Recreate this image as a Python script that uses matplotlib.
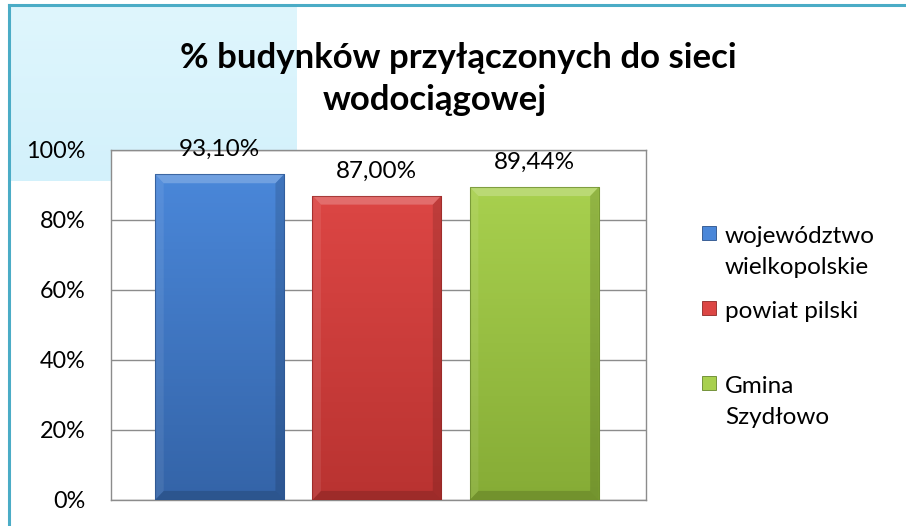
import numpy as np
import matplotlib
matplotlib.use("Agg")
import matplotlib.pyplot as plt
from matplotlib.patches import Rectangle, Polygon
from matplotlib.lines import Line2D
from matplotlib.colors import LinearSegmentedColormap

plt.rcParams['font.family'] = ['Lato', 'DejaVu Sans']

title_lines = ["% budynków przyłączonych do sieci", "wodociągowej"]
series = ["województwo\nwielkopolskie", "powiat pilski", "Gmina\nSzydłowo"]
values = [93.10, 87.00, 89.44]
yticks = [0, 20, 40, 60, 80, 100]
ytick_labels = ["0%", "20%", "40%", "60%", "80%", "100%"]

colors_top = ["#4A87D9", "#DC4644", "#A8D04E"]
colors_bot = ["#3464A8", "#B93331", "#86AC36"]
edge_cols = ["#2A5088", "#8E2624", "#66852A"]

W, H = 906, 526
fig = plt.figure(figsize=(W / 100, H / 100), dpi=100)
fig.patch.set_facecolor("white")

# light blue background block (top-left)
grad = np.linspace(0, 1, 100).reshape(-1, 1)
bg_ax = fig.add_axes([9 / W, 1 - 181 / H, 288 / W, 176 / H], zorder=0)
bg_cmap = LinearSegmentedColormap.from_list("bg", ["#DFF6FD", "#D3F1FB"])
bg_ax.imshow(grad, aspect="auto", cmap=bg_cmap, extent=[0, 1, 0, 1], origin="upper")
bg_ax.set_axis_off()

# border (teal)
fig.add_artist(Line2D([9 / W, 9 / W], [0, 1 - 5 / H], transform=fig.transFigure,
                      color="#4BACC6", lw=2.2))
fig.add_artist(Line2D([9 / W, 1], [1 - 5 / H, 1 - 5 / H], transform=fig.transFigure,
                      color="#4BACC6", lw=2.2))

ax = fig.add_axes([111 / W, 1 - 500 / H, 535 / W, 350 / H], zorder=2)
ax.set_facecolor("white")
x = np.arange(len(values))
bw = 0.82
bars = ax.bar(x, values, width=bw, color="none", edgecolor="none", zorder=3)

for i, (b, v) in enumerate(zip(bars, values)):
    cmap = LinearSegmentedColormap.from_list("c%d" % i, [colors_top[i], colors_bot[i]])
    x0 = b.get_x(); x1 = x0 + b.get_width()
    im = ax.imshow(grad, aspect="auto", cmap=cmap, extent=[x0, x1, 0, v],
                   origin="upper", zorder=3)
    im.set_clip_path(b)
    d = 0.055
    dy = 2.6
    # top bevel (lighter)
    ax.add_patch(Polygon([[x0, v], [x1, v], [x1 - d, v - dy], [x0 + d, v - dy]],
                         closed=True, facecolor="white", alpha=0.22, edgecolor="none", zorder=4))
    # left bevel
    ax.add_patch(Polygon([[x0, v], [x0 + d, v - dy], [x0 + d, dy], [x0, 0]],
                         closed=True, facecolor="white", alpha=0.08, edgecolor="none", zorder=4))
    # right bevel (darker)
    ax.add_patch(Polygon([[x1, v], [x1 - d, v - dy], [x1 - d, dy], [x1, 0]],
                         closed=True, facecolor="black", alpha=0.13, edgecolor="none", zorder=4))
    # bottom bevel
    ax.add_patch(Polygon([[x0, 0], [x1, 0], [x1 - d, dy], [x0 + d, dy]],
                         closed=True, facecolor="black", alpha=0.15, edgecolor="none", zorder=4))
    ax.add_patch(Rectangle((x0, 0), b.get_width(), v, facecolor="none",
                           edgecolor=edge_cols[i], lw=0.8, alpha=0.7, zorder=5))
    ax.text(x[i], v + 4.0, f"{v:.2f}%".replace(".", ","), ha="center", va="bottom",
            fontsize=17.5, color="black", zorder=6, clip_on=False)

ax.set_xlim(-0.69, 2.71)
ax.set_ylim(0, 100)
ax.set_yticks(yticks)
ax.set_yticklabels(ytick_labels, fontsize=16.8)
ax.set_xticks([])
ax.tick_params(axis="y", length=0, pad=18.5)
ax.grid(axis="y", color="#8C8C8C", lw=1.0, zorder=1)
ax.set_axisbelow(True)
for s in ax.spines.values():
    s.set_color("#8C8C8C")
    s.set_linewidth(1.0)

# title
fig.text(458 / W, 1 - 58 / H, title_lines[0], ha="center", va="center",
         fontsize=25, fontweight="bold", color="black")
fig.text(435 / W, 1 - 100 / H, title_lines[1], ha="center", va="center",
         fontsize=25, fontweight="bold", color="black")

# legend (manual)
leg_y = [233, 308, 383]
for i, (name, yy) in enumerate(zip(series, leg_y)):
    sq = 14
    fig.add_artist(Rectangle((702 / W, 1 - (yy + sq / 2) / H), sq / W, sq / H,
                             transform=fig.transFigure, facecolor=colors_top[i],
                             edgecolor=edge_cols[i], lw=0.6))
    fig.text(725 / W, 1 - (yy - 7) / H, name, ha="left", va="top", fontsize=17.5,
             linespacing=1.58, color="black")

fig.savefig("out.png", dpi=100, facecolor="white")
